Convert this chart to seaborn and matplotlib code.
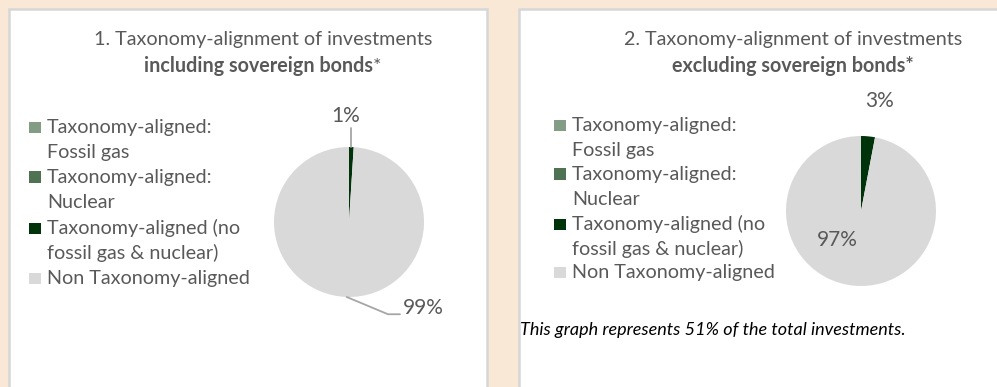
import matplotlib
matplotlib.use("Agg")
import matplotlib.pyplot as plt
from matplotlib.patches import Rectangle
import seaborn as sns

# ---- data ----
categories = [
    "Taxonomy-aligned:\nFossil gas",
    "Taxonomy-aligned:\nNuclear",
    "Taxonomy-aligned (no\nfossil gas & nuclear)",
    "Non Taxonomy-aligned",
]
incl_sovereign = [0, 0, 1, 99]
excl_sovereign = [0, 0, 3, 97]
titles = [
    ("1. Taxonomy-alignment of investments", "including sovereign bonds", "*"),
    ("2. Taxonomy-alignment of investments", "excluding sovereign bonds*", ""),
]
footnote = "This graph represents 51% of the total investments."

colors = ["#829D83", "#4F7252", "#003309", "#D9D9D9"]

sns.set_theme(style="white")
plt.rcParams["font.family"] = ["Lato", "DejaVu Sans"]

W, H = 997, 387
fig = plt.figure(figsize=(W / 100, H / 100), dpi=100)
fig.patch.set_facecolor("#FAE8D7")

TXT = "#595959"
FS = 14.2
FS_PCT = 15.0


def fx(x):
    return x / W


def fy(y):
    return 1 - y / H


# white panels with grey border
for (x0, x1) in [(9, 487), (519, 1010)]:
    fig.patches.append(Rectangle((fx(x0), fy(H + 20)), fx(x1 - x0), (H + 20 - 9) / H,
                                 transform=fig.transFigure, facecolor="white",
                                 edgecolor="#D6D6D6", linewidth=1.8, zorder=-5))


def legend(x_marker, baselines, line_px):
    # baselines: first-row text baseline of each legend entry (pixels from top)
    for lab, col, yb in zip(categories, colors, baselines):
        fig.patches.append(Rectangle((fx(x_marker), fy(yb)), fx(11.5), 11.5 / H,
                                     transform=fig.transFigure, facecolor=col,
                                     edgecolor="none", zorder=2))
        for i, row in enumerate(lab.split("\n")):
            fig.text(fx(x_marker + 18), fy(yb + i * line_px), row, ha="left",
                     va="baseline", fontsize=FS, color=TXT)


def pie(cx, cy, r, values):
    ax = fig.add_axes([fx(cx - r), fy(cy + r), fx(2 * r), 2 * r / H])
    ax.pie(values, colors=colors, startangle=90, counterclock=False,
           wedgeprops=dict(linewidth=0))
    ax.set_xlim(-1, 1)
    ax.set_ylim(-1, 1)
    ax.set_aspect("equal")
    ax.axis("off")
    return ax


# panel 1
ax1 = pie(349, 222, 75, incl_sovereign)
ax1.text(-0.05, 1.42, f"{incl_sovereign[2]}%", ha="center", va="center",
         fontsize=FS_PCT, color=TXT, clip_on=False)
ax1.plot([0.03, 0.03], [1.0, 1.25], color="#A6A6A6", lw=1.3, clip_on=False)
ax1.plot([-0.03, 0.52, 0.68], [-1.0, -1.23, -1.23], color="#A6A6A6", lw=1.3,
         clip_on=False)
ax1.text(0.72, -1.15, f"{incl_sovereign[3]}%", ha="left", va="center",
         fontsize=FS_PCT, color=TXT, clip_on=False)
legend(29, [133, 183, 234, 284], 25.3)

# panel 2
ax2 = pie(861, 211, 75, excl_sovereign)
ax2.text(0.25, 1.47, f"{excl_sovereign[2]}%", ha="center", va="center",
         fontsize=FS_PCT, color=TXT, clip_on=False)
ax2.text(-0.31, -0.39, f"{excl_sovereign[3]}%", ha="center", va="center",
         fontsize=FS_PCT, color=TXT)
legend(554, [131, 180, 230, 278], 25.0)

# titles
for cx, (l1, l2, star) in zip([263, 793], titles):
    fig.text(fx(cx), fy(40), l1, ha="center", va="center", fontsize=FS, color=TXT)
    t = fig.text(fx(cx), fy(66), l2, ha="center", va="center", fontsize=FS,
                 color=TXT, fontweight="bold")
    if star:
        fig.canvas.draw()
        bb = t.get_window_extent()
        t.set_x(fx(cx - 5))
        fig.text(fx(cx - 5) + bb.width / 2 / W, fy(66), star, ha="left",
                 va="center", fontsize=FS, color=TXT)

fig.text(fx(520), fy(330), footnote, ha="left", va="center", fontsize=13.0,
         color="black", style="italic")

fig.savefig("out.png", dpi=100, facecolor=fig.get_facecolor())
